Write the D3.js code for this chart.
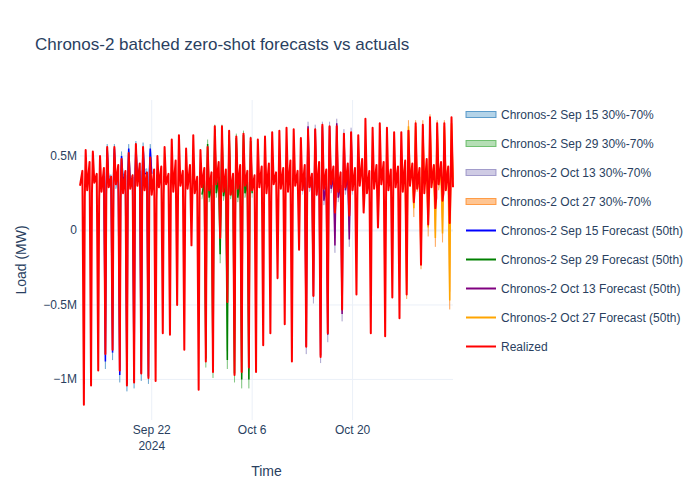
<!DOCTYPE html>
<html>
<head>
<meta charset="utf-8">
<script src="https://cdn.jsdelivr.net/npm/d3@7"></script>
<style>
  body { margin: 0; background: #fff; }
  text { font-family: "Liberation Sans", Arial, sans-serif; fill: #2a3f5f; }
</style>
</head>
<body>
<svg id="chart" width="700" height="500"></svg>
<script>
// realized load, in millions of MW, one value per day and daily slot
const firstDay = Date.UTC(2024, 8, 12);
const slotHours = { night: 0, morning: 8, trough: 13, afternoon: 16, peak: 19 };

const realizedNight = [0.30, 0.27, 0.32, 0.26, 0.29, 0.31, 0.25, 0.28, 0.30, 0.27, 0.24, 0.29, 0.31, 0.26, 0.30, 0.28, 0.25, 0.29, 0.27, 0.31, 0.26, 0.24, 0.28, 0.30, 0.27, 0.29, 0.25, 0.31, 0.28, 0.26, 0.30, 0.27, 0.29, 0.24, 0.28, 0.31, 0.26, 0.29, 0.27, 0.30, 0.25, 0.28, 0.31, 0.27, 0.29, 0.26, 0.30, 0.28, 0.25, 0.29, 0.31, 0.27, 0.29];
const realizedMorning = [0.40, 0.46, 0.38, 0.42, 0.36, 0.44, 0.40, 0.37, 0.45, 0.39, 0.41, 0.43, 0.38, 0.47, 0.40, 0.44, 0.36, 0.42, 0.39, 0.46, 0.41, 0.38, 0.44, 0.40, 0.37, 0.43, 0.45, 0.39, 0.42, 0.47, 0.40, 0.44, 0.38, 0.46, 0.41, 0.43, 0.39, 0.45, 0.42, 0.48, 0.40, 0.44, 0.46, 0.41, 0.43, 0.47, 0.45, 0.42, 0.48, 0.44, 0.46, 0.43];
const realizedTrough = [-1.17, -1.04, -0.94, -0.83, -0.80, -0.94, -1.04, -1.02, -0.96, -0.99, -1.01, -0.69, -0.70, -0.50, -0.80, -0.10, -1.07, -0.88, -0.95, -0.05, -0.48, -0.97, -0.95, -0.92, -0.95, -0.77, -0.69, -0.32, -0.63, -0.88, -0.13, -0.78, -0.44, -0.85, -0.69, 0.12, -0.53, 0.10, -0.43, 0.12, -0.69, 0.02, -0.71, -0.45, -0.59, -0.43, 0.19, -0.23, 0.04, 0.15, 0.20, 0.05];
const realizedAfternoon = [0.22, 0.25, 0.20, 0.24, 0.27, 0.21, 0.23, 0.26, 0.22, 0.25, 0.20, 0.24, 0.27, 0.23, 0.21, 0.26, 0.22, 0.25, 0.28, 0.23, 0.20, 0.24, 0.26, 0.22, 0.25, 0.27, 0.23, 0.21, 0.26, 0.24, 0.28, 0.22, 0.25, 0.23, 0.27, 0.24, 0.21, 0.26, 0.23, 0.25, 0.28, 0.24, 0.22, 0.26, 0.25, 0.23, 0.27, 0.24, 0.26, 0.22, 0.25, 0.28];
const realizedPeak = [0.54, 0.53, 0.50, 0.56, 0.56, 0.48, 0.52, 0.58, 0.56, 0.49, 0.50, 0.56, 0.61, 0.64, 0.55, 0.64, 0.54, 0.56, 0.70, 0.70, 0.67, 0.63, 0.65, 0.62, 0.61, 0.63, 0.66, 0.67, 0.69, 0.68, 0.62, 0.68, 0.68, 0.71, 0.70, 0.70, 0.65, 0.66, 0.64, 0.75, 0.69, 0.72, 0.69, 0.66, 0.66, 0.67, 0.72, 0.71, 0.76, 0.72, 0.72, 0.76];

// forecasts: start day index (from Sep 12) and 7 days of median values
const forecastNames = ["Sep 15", "Sep 29", "Oct 13", "Oct 27"];
const forecastStart = [3, 17, 31, 45];
const forecastBase = [
  [0.30, 0.33, 0.31, 0.34, 0.32, 0.35, 0.38],
  [0.24, 0.22, 0.25, 0.23, 0.24, 0.22, 0.25],
  [0.27, 0.29, 0.26, 0.20, 0.28, 0.22, 0.27],
  [0.34, 0.36, 0.30, 0.33, 0.35, 0.31, 0.34]
];
const forecastTrough = [
  [-0.88, -0.82, -0.97, -1.03, -1.01, -0.96, -0.98],
  [-0.86, -0.93, -0.16, -0.87, -0.96, -1.00, -1.00],
  [-0.78, -0.44, -0.84, -0.70, -0.10, -0.56, -0.06],
  [-0.40, 0.15, -0.20, 0.02, -0.05, -0.02, -0.47]
];
const forecastPeak = [
  [0.55, 0.55, 0.50, 0.55, 0.57, 0.56, 0.55],
  [0.58, 0.68, 0.68, 0.64, 0.62, 0.64, 0.60],
  [0.70, 0.68, 0.70, 0.70, 0.72, 0.65, 0.66],
  [0.70, 0.70, 0.70, 0.74, 0.70, 0.70, 0.72]
];
// 30%-70% half width around the median
const bandBase = [0.03, 0.03, 0.03, 0.04];
const bandTrough = [0.05, 0.06, 0.05, 0.06];

const medianColors = ["blue", "green", "purple", "orange"];
const bandFills = ["rgba(66,146,198,0.4)", "rgba(44,160,44,0.35)", "rgba(117,107,177,0.35)", "rgba(255,127,14,0.45)"];
const bandStrokes = ["rgba(49,130,189,0.75)", "rgba(44,160,44,0.6)", "rgba(117,107,177,0.6)", "rgba(255,127,14,0.7)"];

const yTicks = [0.5, 0, -0.5, -1];
const xTicks = [Date.UTC(2024, 8, 22), Date.UTC(2024, 9, 6), Date.UTC(2024, 9, 20)];
const xTickLabels = [["Sep 22", "2024"], ["Oct 6"], ["Oct 20"]];

// build series
const at = (day, hour) => d3.utcHour.offset(d3.utcDay.offset(new Date(firstDay), day), hour);

const realized = [];
realizedTrough.forEach((_, d) => {
  realized.push({ t: at(d, slotHours.night), v: realizedNight[d] });
  realized.push({ t: at(d, slotHours.morning), v: realizedMorning[d] });
  realized.push({ t: at(d, slotHours.trough), v: realizedTrough[d] });
  realized.push({ t: at(d, slotHours.afternoon), v: realizedAfternoon[d] });
  realized.push({ t: at(d, slotHours.peak), v: realizedPeak[d] });
});
realized.push({ t: at(realizedTrough.length, 0), v: realizedNight[realizedTrough.length] });

const forecasts = forecastNames.map((name, k) => {
  const pts = [];
  forecastBase[k].forEach((b, i) => {
    const d = forecastStart[k] + i;
    pts.push({ t: at(d, slotHours.night), v: b, w: bandBase[k] });
    pts.push({ t: at(d, slotHours.morning), v: realizedMorning[d] > b ? (b + realizedMorning[d]) / 2 : b, w: bandBase[k] });
    pts.push({ t: at(d, slotHours.trough), v: forecastTrough[k][i], w: bandTrough[k] });
    pts.push({ t: at(d, slotHours.afternoon), v: b, w: bandBase[k] });
    pts.push({ t: at(d, slotHours.peak), v: forecastPeak[k][i], w: bandBase[k] });
  });
  const last = forecastBase[k].length - 1;
  pts.push({ t: at(forecastStart[k] + last + 1, 0), v: forecastBase[k][last], w: bandBase[k] });
  return pts;
});

// layout
const margin = { top: 100, right: 247, bottom: 80, left: 80 };
const width = 700, height = 500;
const svg = d3.select("#chart");

const x = d3.scaleUtc()
  .domain(d3.extent(realized, d => d.t))
  .range([margin.left, width - margin.right]);

const allV = realized.map(d => d.v).concat(...forecasts.map(f => f.map(d => d.v)));
const [vMin, vMax] = d3.extent(allV);
const span = vMax - vMin;
const y = d3.scaleLinear()
  .domain([vMin - span * 0.053, vMax + span * 0.06])
  .range([height - margin.bottom, margin.top]);

const fmtY = v => v === 0 ? "0" : (String(v) + "M").replace("-", "\u2212");

// grid
svg.append("g").selectAll("line").data(xTicks).join("line")
  .attr("x1", d => x(d)).attr("x2", d => x(d))
  .attr("y1", margin.top).attr("y2", height - margin.bottom)
  .attr("stroke", "#ebf0f8").attr("stroke-width", 1);
svg.append("g").selectAll("line").data(yTicks).join("line")
  .attr("x1", margin.left).attr("x2", width - margin.right)
  .attr("y1", d => y(d)).attr("y2", d => y(d))
  .attr("stroke", "#ebf0f8").attr("stroke-width", d => d === 0 ? 2 : 1);

// y tick labels
svg.append("g").selectAll("text").data(yTicks).join("text")
  .attr("x", margin.left - 3).attr("y", d => y(d) + 4)
  .attr("text-anchor", "end").attr("font-size", 12)
  .text(fmtY);

// x tick labels
const xl = svg.append("g").selectAll("text").data(xTicks).join("text")
  .attr("x", d => x(d)).attr("y", height - margin.bottom + 14)
  .attr("text-anchor", "middle").attr("font-size", 12);
xl.selectAll("tspan").data((d, i) => xTickLabels[i]).join("tspan")
  .attr("x", function () { return d3.select(this.parentNode).attr("x"); })
  .attr("dy", (d, i) => i === 0 ? 0 : 16)
  .text(d => d);

// bands
const band = d3.area().x(d => x(d.t)).y0(d => y(d.v - d.w)).y1(d => y(d.v + d.w));
const bandLo = d3.line().x(d => x(d.t)).y(d => y(d.v - d.w));
const bandHi = d3.line().x(d => x(d.t)).y(d => y(d.v + d.w));
forecasts.forEach((f, k) => {
  svg.append("path").attr("d", band(f)).attr("fill", bandFills[k]);
  [bandLo, bandHi].forEach(gen => svg.append("path").attr("d", gen(f))
    .attr("fill", "none").attr("stroke", bandStrokes[k]).attr("stroke-width", 0.6));
});

// medians
const line = d3.line().x(d => x(d.t)).y(d => y(d.v));
forecasts.forEach((f, k) => {
  svg.append("path").attr("d", line(f))
    .attr("fill", "none").attr("stroke", medianColors[k]).attr("stroke-width", 1.5);
});

// realized
svg.append("path").attr("d", line(realized))
  .attr("fill", "none").attr("stroke", "red").attr("stroke-width", 2)
  .attr("stroke-linejoin", "round");

// title and axis titles
svg.append("text").attr("x", 35).attr("y", 50).attr("font-size", 17)
  .text("Chronos-2 batched zero-shot forecasts vs actuals");
svg.append("text").attr("x", (margin.left + width - margin.right) / 2).attr("y", 476)
  .attr("text-anchor", "middle").attr("font-size", 14).text("Time");
svg.append("text")
  .attr("transform", `translate(26,${(margin.top + height - margin.bottom) / 2}) rotate(-90)`)
  .attr("text-anchor", "middle").attr("font-size", 14).text("Load (MW)");

// legend
const legendItems = forecastNames.map((n, k) => ({ label: `Chronos-2 ${n} 30%-70%`, kind: "band", k }))
  .concat(forecastNames.map((n, k) => ({ label: `Chronos-2 ${n} Forecast (50th)`, kind: "line", color: medianColors[k] })))
  .concat([{ label: "Realized", kind: "line", color: "red" }]);

const lg = svg.append("g").selectAll("g").data(legendItems).join("g")
  .attr("transform", (d, i) => `translate(466,${114.5 + i * 29})`);
lg.filter(d => d.kind === "band").append("rect")
  .attr("x", 0).attr("y", -3).attr("width", 30).attr("height", 6)
  .attr("fill", d => bandFills[d.k]).attr("stroke", d => bandStrokes[d.k]).attr("stroke-width", 1);
lg.filter(d => d.kind === "line").append("line")
  .attr("x1", 0).attr("x2", 30).attr("y1", 0).attr("y2", 0)
  .attr("stroke", d => d.color).attr("stroke-width", 2);
lg.append("text").attr("x", 35).attr("y", 4).attr("font-size", 12).text(d => d.label);
</script>
</body>
</html>
